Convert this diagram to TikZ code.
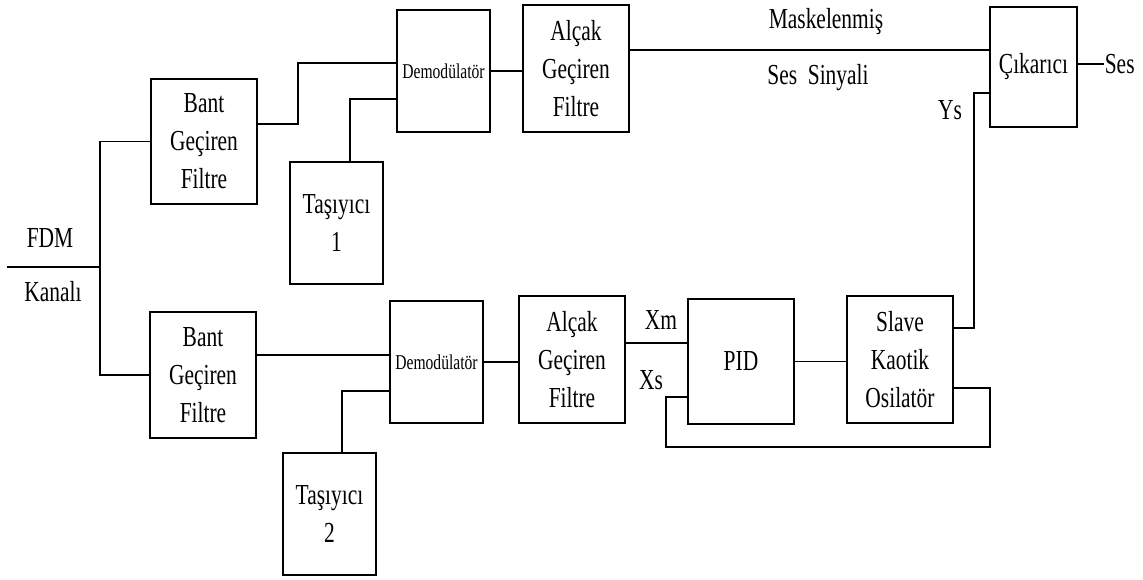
\documentclass[tikz,border=0pt]{standalone}
\usepackage{fontspec}
\setmainfont{Liberation Serif}[FakeStretch=0.74]
\usepackage{tikz}

\begin{document}
\begin{tikzpicture}[x=0.02cm, y=-0.02cm, line width=0.9pt,
    blok/.style={draw, align=center, inner sep=0pt, font=\fontsize{16.5}{21.6}\selectfont},
    etiket/.style={inner sep=0pt, font=\fontsize{16.5}{21.6}\selectfont},
    demod/.style={blok, font=\fontsize{12}{14}\selectfont}]
    \useasboundingbox (0,0) rectangle (1143,579);
    % ust kol
    \node[blok, minimum width=2.12cm, minimum height=2.5cm] (bgf1) at (204,141.5) {Bant\\Geçiren\\Filtre};
    \node[blok, minimum width=1.86cm, minimum height=2.44cm] (tas1) at (336.5,223) {Taşıyıcı\\1};
    \node[demod, minimum width=1.86cm, minimum height=2.44cm] (dem1) at (443.5,71) {Demodülatör};
    \node[blok, minimum width=2.12cm, minimum height=2.54cm] (agf1) at (576,68.5) {Alçak\\Geçiren\\Filtre};
    \node[blok, minimum width=1.74cm, minimum height=2.4cm] (cik) at (1033.5,67) {Çıkarıcı};
    % alt kol
    \node[blok, minimum width=2.12cm, minimum height=2.52cm] (bgf2) at (203,375) {Bant\\Geçiren\\Filtre};
    \node[blok, minimum width=1.86cm, minimum height=2.44cm] (tas2) at (329.5,514) {Taşıyıcı\\2};
    \node[demod, minimum width=1.86cm, minimum height=2.44cm] (dem2) at (436.5,362) {Demodülatör};
    \node[blok, minimum width=2.12cm, minimum height=2.54cm] (agf2) at (572,359.5) {Alçak\\Geçiren\\Filtre};
    \node[blok, minimum width=2.12cm, minimum height=2.5cm] (pid) at (741,361.5) {PID};
    \node[blok, minimum width=2.12cm, minimum height=2.54cm] (slave) at (900,359.5) {Slave\\Kaotik\\Osilatör};
    % etiketler
    \node[etiket] (fdm) at (50,238) {FDM};
    \node[etiket] (kanal) at (53,292) {Kanalı};
    \node[etiket] (maske) at (826,22) {Maskelenmiş};
    \node[etiket] (sinyal) at (818,78) {Ses\ \ Sinyali};
    \node[etiket, anchor=west] (ses) at (1104,64) {Ses};
    \node[etiket] (ys) at (950,110) {Ys};
    \node[etiket] (xm) at (661,320) {Xm};
    \node[etiket] (xs) at (651,380) {Xs};
    \coordinate (giris) at (7,267);
    \coordinate (dal) at (100,267);
    \coordinate (geri) at (990,447);
    % baglantilar
    \draw (giris) -- (dal);
    \draw (bgf1.west) -| (dal) |- (bgf2.west);
    \draw ([yshift=0.35cm]bgf1.east) -- ++(40,0) |- ([yshift=0.16cm]dem1.west);
    \draw ([xshift=0.27cm]tas1.north) |- ([yshift=-0.56cm]dem1.west);
    \draw (dem1.east) -- (dem1.east -| agf1.west);
    \coordinate (mask) at ([yshift=0.37cm]agf1.east);
    \draw (mask) -- (mask -| cik.west);
    \draw (cik.east |- ses.west) -- (ses.west);
    \draw ([yshift=0.63cm]slave.east) -- ++(20,0) |- ([yshift=-0.52cm]cik.west);
    \coordinate (b2) at ([yshift=0.4cm]bgf2.east);
    \draw (b2) -- (b2 -| dem2.west);
    \draw ([xshift=0.25cm]tas2.north) |- ([yshift=-0.58cm]dem2.west);
    \draw (dem2.east) -- (dem2.east -| agf2.west);
    \coordinate (xmgiris) at ([yshift=0.33cm]agf2.east);
    \draw (xmgiris) -- (xmgiris -| pid.west);
    \draw (pid.east) -- (pid.east -| slave.west);
    \coordinate (xsgiris) at ([yshift=-0.71cm]pid.west);
    \draw ([yshift=-0.57cm]slave.east) -| (geri) -| ([xshift=-0.42cm]xsgiris) -- (xsgiris);
\end{tikzpicture}
\end{document}
